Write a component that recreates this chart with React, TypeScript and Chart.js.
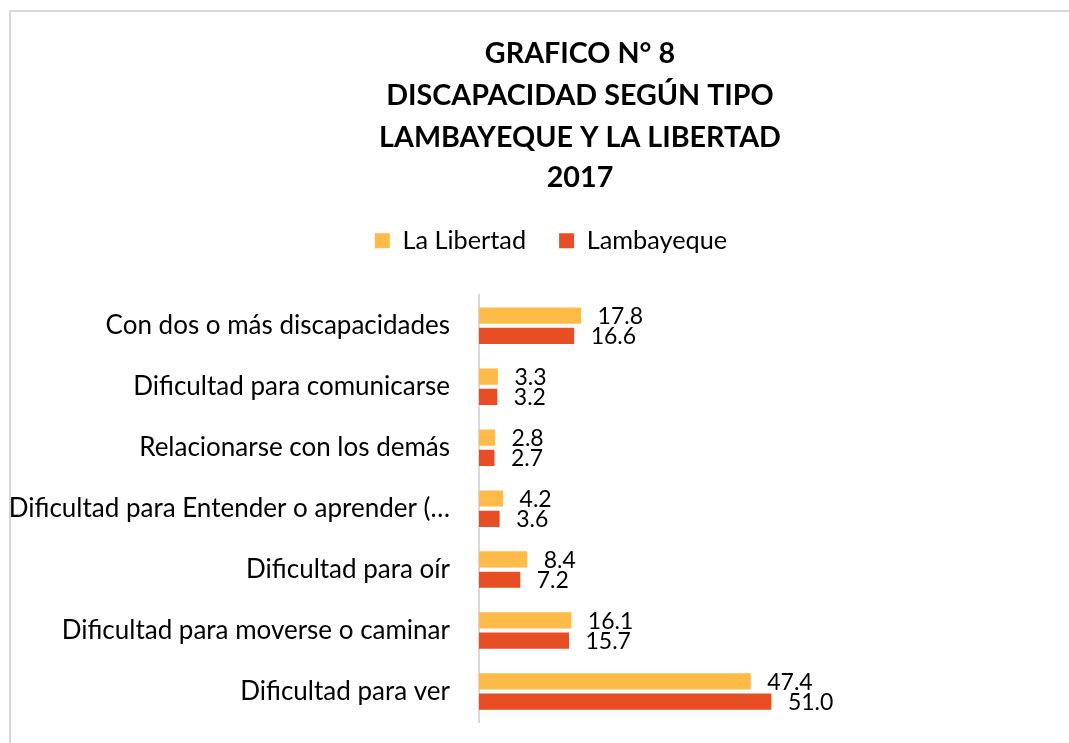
import React, { useEffect, useRef } from 'react';
import { Chart, registerables } from 'chart.js';

Chart.register(...registerables);

const categories = [
  'Con dos o más discapacidades',
  'Dificultad para comunicarse',
  'Relacionarse con los demás',
  'Dificultad para Entender o aprender (…',
  'Dificultad para oír',
  'Dificultad para moverse o caminar',
  'Dificultad para ver',
];
const laLibertad = [17.8, 3.3, 2.8, 4.2, 8.4, 16.1, 47.4];
const lambayeque = [16.6, 3.2, 2.7, 3.6, 7.2, 15.7, 51.0];
const seriesNames = ['La Libertad', 'Lambayeque'];
const seriesColors = ['#FFBA47', '#E84E24'];
const titleLines = ['GRAFICO N° 8', 'DISCAPACIDAD SEGÚN TIPO', 'LAMBAYEQUE Y LA LIBERTAD', '2017'];
const xMin = 0;
const xMax = 60;

const FONT = 'Lato, "Open Sans", sans-serif';
const LABEL_SIZE = 26;
const LEGEND_SIZE = 25.3;
const VALUE_SIZE = 23;
const TITLE_SIZE = 28.7;

const titlePlugin = {
  id: 'multiTitle',
  afterDraw(chart: any) {
    const ctx = chart.ctx;
    ctx.save();
    ctx.fillStyle = '#000';
    ctx.font = `bold ${TITLE_SIZE}px ${FONT}`;
    ctx.textAlign = 'center';
    ctx.textBaseline = 'alphabetic';
    const cx = 569;
    const baselines = [51, 93, 134.5, 175];
    titleLines.forEach((t, i) => ctx.fillText(t, cx, baselines[i]));
    ctx.restore();
  },
};

const valueLabelPlugin = {
  id: 'valueLabels',
  afterDatasetsDraw(chart: any) {
    const ctx = chart.ctx;
    ctx.save();
    ctx.fillStyle = '#000';
    ctx.font = `${VALUE_SIZE}px ${FONT}`;
    ctx.textAlign = 'left';
    ctx.textBaseline = 'middle';
    chart.data.datasets.forEach((ds: any, di: number) => {
      const meta = chart.getDatasetMeta(di);
      meta.data.forEach((el: any, i: number) => {
        const v = ds.data[i] as number;
        ctx.fillText(v.toFixed(1), el.x + 16.5, el.y + 1);
      });
    });
    ctx.restore();
  },
};

export default function App() {
  const ref = useRef<HTMLCanvasElement | null>(null);
  useEffect(() => {
    if (!ref.current) return;
    document.body.style.overflow = 'hidden';
    const chart = new Chart(ref.current, {
      type: 'bar',
      data: {
        labels: categories,
        datasets: [
          { label: seriesNames[0], data: laLibertad, backgroundColor: seriesColors[0], borderWidth: 0 },
          { label: seriesNames[1], data: lambayeque, backgroundColor: seriesColors[1], borderWidth: 0 },
        ],
      },
      options: {
        indexAxis: 'y',
        responsive: false,
        maintainAspectRatio: false,
        animation: false,
        devicePixelRatio: 1,
        layout: { padding: { top: 183, left: 0, right: 0, bottom: 21 } },
        datasets: { bar: { categoryPercentage: 0.665, barPercentage: 0.8 } },
        plugins: {
          title: { display: false },
          tooltip: { enabled: false },
          legend: {
            display: true,
            position: 'top',
            labels: {
              boxWidth: 15,
              boxHeight: 15,
              padding: 33,
              color: '#000',
              font: { family: FONT, size: LEGEND_SIZE },
            },
          },
        },
        scales: {
          x: {
            type: 'linear',
            position: 'top',
            min: xMin,
            max: xMax,
            ticks: { display: false },
            grid: { display: false, drawTicks: false },
            border: { display: false },
            afterFit: (s: any) => {
              s.height = 32;
              s.paddingLeft = 0;
              s.paddingRight = 0;
            },
          },
          y: {
            type: 'category',
            position: 'left',
            ticks: {
              color: '#000',
              padding: 29,
              font: { family: FONT, size: LABEL_SIZE },
              autoSkip: false,
            },
            grid: { display: false, drawTicks: false },
            border: { display: true, color: '#D9D9D9', width: 2 },
            afterFit: (s: any) => {
              s.width = 468;
              s.paddingTop = 0;
              s.paddingBottom = 0;
            },
          },
          spacer: {
            type: 'linear',
            position: 'right',
            display: true,
            ticks: { display: false },
            grid: { display: false, drawTicks: false },
            border: { display: false },
            afterFit: (s: any) => {
              s.width = 268;
              s.paddingTop = 0;
              s.paddingBottom = 0;
            },
          },
        },
      },
      plugins: [titlePlugin, valueLabelPlugin],
    } as any);
    return () => chart.destroy();
  }, []);

  return (
    <div
      style={{
        position: 'fixed',
        left: 0,
        top: 0,
        width: 1069,
        height: 743,
        overflow: 'hidden',
        background: '#fff',
      }}
    >
      <div style={{ position: 'absolute', left: 9, top: 10, width: 1100, height: 2, background: '#D9D9D9' }} />
      <div style={{ position: 'absolute', left: 9, top: 10, width: 2, height: 800, background: '#D9D9D9' }} />
      <canvas
        ref={ref}
        width={1080}
        height={731}
        style={{ position: 'absolute', left: 11, top: 12, width: 1080, height: 731 }}
      />
    </div>
  );
}
